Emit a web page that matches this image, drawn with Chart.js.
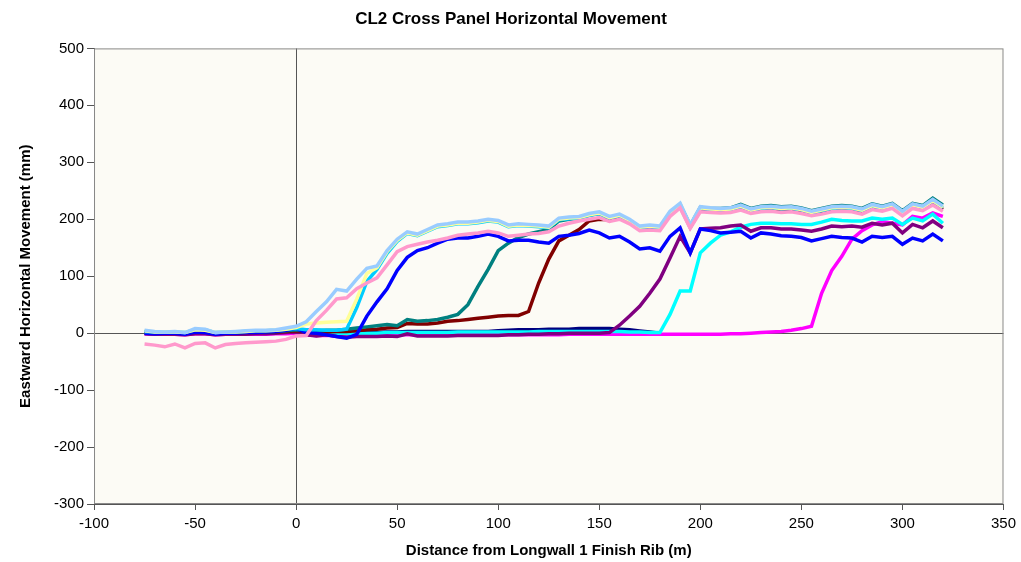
<!DOCTYPE html>
<html>
<head>
<meta charset="utf-8">
<title>CL2 Cross Panel Horizontal Movement</title>
<script src="https://cdn.jsdelivr.net/npm/chart.js@4/dist/chart.umd.min.js"></script>
<style>
  body { margin: 0; background: #ffffff; }
  #wrap { width: 1021px; height: 562px; }
</style>
</head>
<body>
<div id="wrap"><canvas id="cl2Chart" width="1021" height="562"></canvas></div>
<script>
// distance from LW1 finish rib (m), one survey peg every 5 m
const distance = [];
for (let d = -75; d <= 320; d += 5) distance.push(d);

const xTicks = [-100, -50, 0, 50, 100, 150, 200, 250, 300, 350];
const yTicks = [-300, -200, -100, 0, 100, 200, 300, 400, 500];

// eastward horizontal movement (mm) per survey
const navy = [1,0,0,0,-1,1,1,-1,0,0,0,1,1,2,3,
  3,-2,-3,-3,-2,-1,0,1,1,2,2,3,3,3,3,3,3,3,3,3,4,5,6,6,6,7,7,7,8,8,8,8,7,6,4,2,0];
const magenta = [-1,-2,-2,-2,-3,-1,-1,-3,-2,-2,-2,-2,-2,-1,-1,
  0,-3,-4,-4,-4,-4,-4,-4,-3,-3,-3,-3,-3,-3,-3,-3,-3,-3,-3,-3,-3,-3,-3,-3,-3,-3,-3,-2,-2,-2,-2,-2,-2,-2,-2,-2,-2,-2,-2,-2,-2,
  -2,-2,-1,-1,0,1,2,3,5,8,12,70,110,135,165,180,190,196,193,190,205,202,211,205];
const cyan = [2,1,1,1,0,3,3,0,1,1,2,2,2,3,4,
  5,3,2,1,0,-1,-1,0,0,1,1,1,1,1,1,1,2,2,2,2,2,2,2,2,3,3,3,3,3,3,3,3,3,2,2,1,
  1,33,74,74,141,158,172,178,186,191,193,193,192,192,191,191,195,200,198,197,197,202,200,202,191,202,197,209,193];
const purple = [-1,-2,-2,-2,-3,-1,-1,-3,-2,-2,-2,-1,-1,0,1,
  2,-3,-5,-3,-6,-7,-6,-6,-6,-5,-6,-1,-5,-5,-5,-5,-4,-4,-4,-4,-4,-3,-3,-2,-2,-1,-1,0,0,0,0,
  1,14,30,47,70,95,132,170,141,183,184,185,188,190,179,185,185,183,183,181,179,183,188,187,188,186,193,190,193,176,191,185,197,185];
const darkRed = [1,0,0,0,-1,2,2,-1,0,0,1,1,2,2,3,
  4,3,2,2,3,3,4,6,7,9,10,17,16,16,18,21,22,24,26,28,30,31,31,38,88,130,162,172,182,197,200,
  199,203,195,183,185,183,208,222,186,216,214,214,215,219,213,216,217,215,216,213,209,212,216,217,216,212,220,216,221,208,221,217,229,217];
const teal = [2,1,1,1,0,3,3,0,1,1,2,2,3,3,4,
  6,5,4,5,5,7,9,11,13,15,13,24,21,22,24,28,33,50,82,112,145,158,168,174,178,182,197,200,202,207,210,
  203,207,198,186,188,186,212,226,189,221,219,219,220,226,219,223,224,222,223,220,215,219,223,224,223,219,227,223,228,215,228,224,237,225];
const blue = [0,-1,0,0,-2,2,1,-2,0,0,1,1,2,3,5,
  8,1,0,-3,-6,-9,-2,30,55,78,110,133,145,150,158,165,167,167,170,174,170,162,163,163,160,158,170,172,175,181,176,
  167,170,160,148,150,144,170,185,141,183,180,176,177,179,167,176,174,171,170,168,162,166,170,168,167,160,170,168,170,156,167,162,174,162];
const skyBlue = [3,2,2,2,1,6,6,1,2,2,3,4,4,5,7,
  8,6,6,5,5,7,45,91,112,140,161,175,171,179,187,189,192,192,194,197,195,187,189,188,187,185,199,201,202,207,210,
  202,206,197,185,187,185,211,225,187,219,217,216,217,222,215,219,220,218,219,216,211,215,219,220,219,215,223,219,224,211,224,220,232,220];
const lightYellow = [4,2,2,2,1,6,5,1,2,2,3,4,4,5,7,
  10,16,18,19,20,21,60,105,115,143,163,176,172,180,188,190,193,193,195,198,196,188,190,189,188,186,200,202,203,208,211,
  203,207,198,186,188,186,212,226,188,220,218,217,218,223,216,220,221,219,220,217,212,216,220,221,220,216,224,220,225,212,225,221,233,221];
const paleBlue = [5,3,2,3,1,8,7,1,2,3,4,5,5,6,9,
  12,20,38,55,77,74,95,114,118,145,165,178,174,182,190,192,195,195,197,200,198,190,192,191,190,188,202,204,205,210,213,
  205,209,200,188,190,188,214,228,190,222,220,219,220,225,218,222,223,221,222,219,214,218,222,223,222,218,226,222,227,214,227,223,235,223];
const rose = [-19,-21,-24,-19,-26,-18,-17,-26,-20,-18,-17,-16,-15,-14,-11,
  -5,-4,22,40,60,62,78,88,97,120,143,152,156,160,163,167,172,174,176,179,176,170,172,174,175,178,188,193,197,200,203,
  196,200,192,180,181,180,205,220,184,213,212,211,212,216,210,213,214,212,213,210,206,209,213,214,213,209,217,214,219,206,219,215,225,214];

// Excel default series colours, in plotting order (later ones sit on top)
const seriesNames = ['Navy', 'Magenta', 'Cyan', 'Purple', 'Dark red', 'Teal', 'Blue', 'Sky blue', 'Light yellow', 'Pale blue', 'Rose'];
const seriesData = [navy, magenta, cyan, purple, darkRed, teal, blue, skyBlue, lightYellow, paleBlue, rose];
const seriesColors = ['#000080', '#FF00FF', '#00FFFF', '#800080', '#800000', '#008080', '#0000FF', '#00CCFF', '#FFFF99', '#99CCFF', '#FF99CC'];

const datasets = seriesData.map((vals, i) => ({
    label: seriesNames[i],
    data: vals.map((v, k) => ({ x: distance[k], y: v })),
    borderColor: seriesColors[i],
    borderWidth: 3.5,
    pointRadius: 0,
    tension: 0,
    fill: false,
    order: seriesData.length - i
}));

// cream plot area with a grey frame
const plotFrame = {
    id: 'plotFrame',
    beforeDraw(chart) {
        const { ctx, chartArea: a } = chart;
        ctx.save();
        ctx.fillStyle = '#FCFBF5';
        ctx.fillRect(a.left, a.top, a.right - a.left, a.bottom - a.top);
        ctx.restore();
    },
    afterDraw(chart) {
        const { ctx, chartArea: a } = chart;
        ctx.save();
        ctx.strokeStyle = '#8a8a8a';
        ctx.lineWidth = 1;
        ctx.strokeRect(a.left + 0.5, a.top + 0.5, a.right - a.left - 1, a.bottom - a.top - 1);
        ctx.restore();
    }
};

const zeroLine = c => (c.tick && c.tick.value === 0) ? '#555555' : 'rgba(0,0,0,0)';

new Chart(document.getElementById('cl2Chart'), {
    type: 'line',
    data: { datasets },
    options: {
        responsive: false,
        animation: false,
        layout: { padding: { left: 17, right: 16, top: 6, bottom: 2 } },
        plugins: {
            legend: { display: false },
            tooltip: { enabled: false },
            title: {
                display: true,
                text: 'CL2 Cross Panel Horizontal Movement',
                color: '#000',
                font: { family: 'Liberation Sans, Arial, sans-serif', size: 17, weight: 'bold' },
                padding: { top: 3, bottom: 19 }
            }
        },
        scales: {
            x: {
                type: 'linear',
                min: -100,
                max: 350,
                afterBuildTicks: s => { s.ticks = xTicks.map(v => ({ value: v })); },
                grid: { color: zeroLine, lineWidth: 1, tickColor: '#555', tickLength: 6, drawTicks: true },
                border: { display: true, color: '#555' },
                ticks: { color: '#000', font: { family: 'Liberation Sans, Arial, sans-serif', size: 15 }, padding: 5, maxRotation: 0 },
                title: {
                    display: true,
                    text: 'Distance from Longwall 1 Finish Rib (m)',
                    color: '#000',
                    font: { family: 'Liberation Sans, Arial, sans-serif', size: 15, weight: 'bold' },
                    padding: { top: 4, bottom: 0 }
                }
            },
            y: {
                type: 'linear',
                min: -300,
                max: 500,
                afterBuildTicks: s => { s.ticks = yTicks.map(v => ({ value: v })); },
                grid: { color: zeroLine, lineWidth: 1, tickColor: '#555', tickLength: 7, drawTicks: true },
                border: { display: true, color: '#555' },
                ticks: { color: '#000', font: { family: 'Liberation Sans, Arial, sans-serif', size: 15 }, padding: 3 },
                title: {
                    display: true,
                    text: 'Eastward Horizontal Movement (mm)',
                    color: '#000',
                    font: { family: 'Liberation Sans, Arial, sans-serif', size: 15, weight: 'bold' },
                    padding: { top: 0, bottom: 16 }
                }
            }
        }
    },
    plugins: [plotFrame]
});
</script>
</body>
</html>
